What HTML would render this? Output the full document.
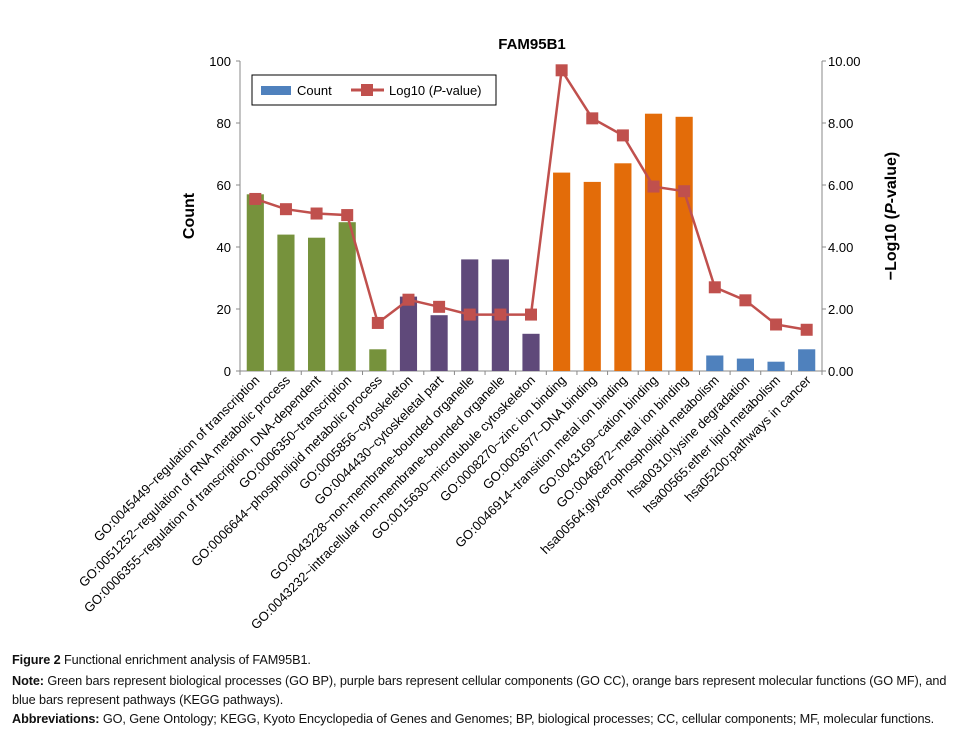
<!DOCTYPE html>
<html><head><meta charset="utf-8"><style>
body{margin:0;width:960px;height:736px;background:#fff;font-family:"Liberation Sans",sans-serif;overflow:hidden;position:relative}
.cap{position:absolute;left:12px;font-size:12.7px;color:#111;white-space:nowrap;letter-spacing:-0.1px}
.cap b{font-weight:bold}
</style></head><body>
<svg id="chart" width="960" height="650" style="position:absolute;left:0;top:0" font-family="Liberation Sans, sans-serif"></svg>
<div class="cap" style="top:653px"><b>Figure 2</b> Functional enrichment analysis of FAM95B1.</div>
<div class="cap" style="top:674px"><b>Note:</b> Green bars represent biological processes (GO BP), purple bars represent cellular components (GO CC), orange bars represent molecular functions (GO MF), and</div>
<div class="cap" style="top:693px">blue bars represent pathways (KEGG pathways).</div>
<div class="cap" style="top:712px"><b>Abbreviations:</b> GO, Gene Ontology; KEGG, Kyoto Encyclopedia of Genes and Genomes; BP, biological processes; CC, cellular components; MF, molecular functions.</div>
<script>
const categories=["GO:0045449~regulation of transcription","GO:0051252~regulation of RNA metabolic process","GO:0006355~regulation of transcription, DNA-dependent","GO:0006350~transcription","GO:0006644~phospholipid metabolic process","GO:0005856~cytoskeleton","GO:0044430~cytoskeletal part","GO:0043228~non-membrane-bounded organelle","GO:0043232~intracellular non-membrane-bounded organelle","GO:0015630~microtubule cytoskeleton","GO:0008270~zinc ion binding","GO:0003677~DNA binding","GO:0046914~transition metal ion binding","GO:0043169~cation binding","GO:0046872~metal ion binding","hsa00564:glycerophospholipid metabolism","hsa00310:lysine degradation","hsa00565:ether lipid metabolism","hsa05200:pathways in cancer"];
const groups=["BP","BP","BP","BP","BP","CC","CC","CC","CC","CC","MF","MF","MF","MF","MF","KEGG","KEGG","KEGG","KEGG"];
const counts=[57,44,43,48,7,24,18,36,36,12,64,61,67,83,82,5,4,3,7];
const logP=[5.55,5.22,5.08,5.03,1.55,2.3,2.07,1.82,1.82,1.82,9.7,8.15,7.6,5.95,5.8,2.7,2.28,1.5,1.33];
const leftTicks=[0,20,40,60,80,100];
const rightTicks=[0,2,4,6,8,10];
const colors={BP:"#76923c",CC:"#5f497a",MF:"#e36c09",KEGG:"#4f81bd"};
const NS="http://www.w3.org/2000/svg";
const svg=document.getElementById('chart');
const X0=240,X1=822,Y0=371,Y1=61;
const band=(X1-X0)/categories.length;
const xc=i=>X0+band*(i+0.5);
const yL=v=>Y0-(v/100)*(Y0-Y1);
const yR=v=>Y0-(v/10)*(Y0-Y1);
function el(t,a,txt){const e=document.createElementNS(NS,t);for(const k in a)e.setAttribute(k,a[k]);if(txt!==undefined)e.textContent=txt;svg.appendChild(e);return e;}
let e;
e=el('text',{x:532,y:49,'text-anchor':'middle','font-size':15,'font-weight':'bold'},'FAM95B1');


e=el('line',{x1:X0,y1:Y1,x2:X0,y2:Y0,stroke:'#888'});


e=el('line',{x1:X1,y1:Y1,x2:X1,y2:Y0,stroke:'#888'});


e=el('line',{x1:X0,y1:Y0,x2:X1,y2:Y0,stroke:'#888'});


leftTicks.forEach(v=>{
  el('line',{x1:X0-4,y1:yL(v),x2:X0,y2:yL(v),stroke:'#888'});
  e=el('text',{x:X0-9,y:yL(v)+5,'text-anchor':'end','font-size':13},String(v));
  
  
});
rightTicks.forEach(v=>{
  el('line',{x1:X1,y1:yR(v),x2:X1+4,y2:yR(v),stroke:'#888'});
  e=el('text',{x:X1+6,y:yR(v)+5,'font-size':13},v.toFixed(2));
  
  
});
for(let i=0;i<=categories.length;i++)el('line',{x1:X0+band*i,y1:Y0,x2:X0+band*i,y2:Y0+4,stroke:'#888'});
e=el('text',{x:0,y:0,transform:'translate(194,216) rotate(-90)','text-anchor':'middle','font-size':16,'font-weight':'bold'},'Count');


e=el('text',{x:0,y:0,transform:'translate(896,216) rotate(-90)','text-anchor':'middle','font-size':16,'font-weight':'bold'});
e.innerHTML='\u2212Log10 (<tspan font-style="italic">P</tspan>-value)';


const bw=band*0.56;
counts.forEach((v,i)=>{
  const b=el('rect',{x:xc(i)-bw/2,y:yL(v),width:bw,height:Y0-yL(v),fill:colors[groups[i]]});
  
  
});
const pts=logP.map((v,i)=>xc(i)+','+yR(v)).join(' ');
e=el('polyline',{points:pts,fill:'none',stroke:'#c0504d','stroke-width':2.5});


logP.forEach((v,i)=>{
  const m=el('rect',{x:xc(i)-6,y:yR(v)-6,width:12,height:12,fill:'#c0504d'});
  
  
});
categories.forEach((c,i)=>{
  const t=el('text',{x:0,y:0,transform:`translate(${xc(i)+5},${Y0+10}) rotate(-45)`,'text-anchor':'end','font-size':13},c);
  
  
});
e=el('rect',{x:252,y:75,width:244,height:30,fill:'#fff',stroke:'#000','stroke-width':1});


e=el('rect',{x:261,y:86,width:30,height:9,fill:'#4f81bd'});


e=el('text',{x:297,y:95,'font-size':13},'Count');


el('line',{x1:351,y1:90,x2:384,y2:90,stroke:'#c0504d','stroke-width':3});
e=el('rect',{x:361,y:84,width:12,height:12,fill:'#c0504d'});


e=el('text',{x:389,y:95,'font-size':13});
e.innerHTML='Log10 (<tspan font-style="italic">P</tspan>-value)';


</script>
</body></html>
